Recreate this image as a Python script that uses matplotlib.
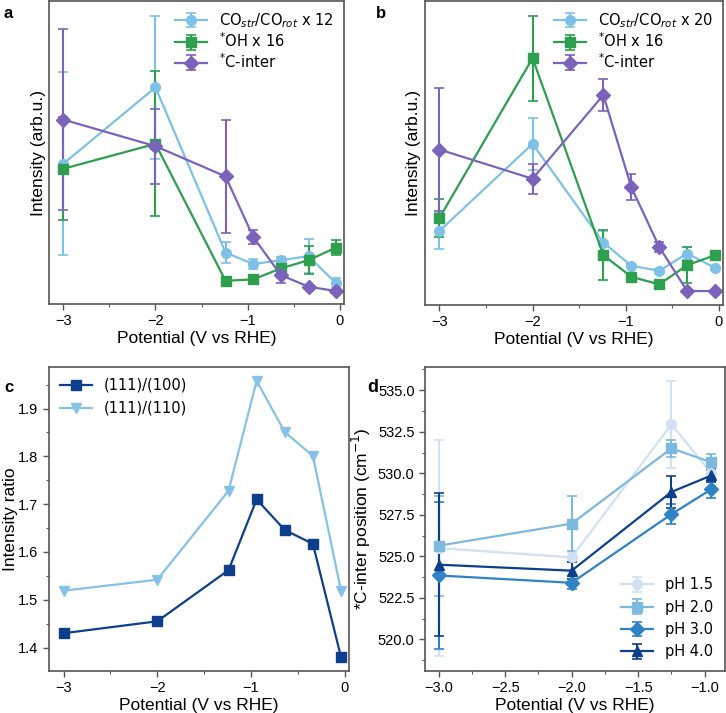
import matplotlib
matplotlib.use("Agg")
import matplotlib.pyplot as plt
from matplotlib.ticker import MultipleLocator

# ---------------- data ----------------
potential = [-3.0, -2.0, -1.24, -0.94, -0.64, -0.34, -0.04]

a_co = [4.22, 6.52, 1.55, 1.20, 1.32, 1.44, 0.62]
a_co_err = [2.75, 2.15, 0.32, 0.15, 0.10, 0.52, 0.15]
a_oh = [4.07, 4.82, 0.70, 0.74, 1.07, 1.32, 1.70]
a_oh_err = [1.55, 2.18, 0.12, 0.12, 0.10, 0.43, 0.22]
a_c = [5.55, 4.75, 3.84, 2.02, 0.87, 0.52, 0.39]
a_c_err = [2.72, 1.13, 1.70, 0.22, 0.25, 0.04, 0.04]

b_co = [2.23, 4.85, 1.88, 1.18, 1.03, 1.55, 1.12]
b_co_err = [0.53, 0.78, 0.35, 0.05, 0.05, 0.20, 0.05]
b_oh = [2.62, 7.43, 1.50, 0.85, 0.62, 1.20, 1.50]
b_oh_err = [0.58, 1.28, 0.75, 0.05, 0.05, 0.55, 0.05]
b_c = [4.68, 3.80, 6.32, 3.55, 1.75, 0.42, 0.42]
b_c_err = [1.85, 0.45, 0.48, 0.38, 0.15, 0.02, 0.02]

c_100 = [1.430, 1.455, 1.562, 1.710, 1.646, 1.617, 1.380]
c_110 = [1.519, 1.542, 1.728, 1.958, 1.851, 1.801, 1.519]

d_pot = [-3.0, -2.0, -1.25, -0.95]
d_ph15 = [525.5, 524.94, 532.95, 530.0]
d_ph15_err = [6.5, 0.3, 2.6, 0.3]
d_ph20 = [525.64, 526.97, 531.5, 530.67]
d_ph20_err = [3.0, 1.67, 0.5, 0.5]
d_ph30 = [523.85, 523.41, 527.54, 529.04]
d_ph30_err = [4.4, 0.4, 0.6, 0.5]
d_ph40 = [524.5, 524.14, 528.88, 529.87]
d_ph40_err = [4.3, 0.5, 0.95, 0.4]

labels_a = ['CO$_{str}$/CO$_{rot}$ x 12', '$^{*}$OH x 16', '$^{*}$C-inter']
labels_b = ['CO$_{str}$/CO$_{rot}$ x 20', '$^{*}$OH x 16', '$^{*}$C-inter']
labels_c = ['(111)/(100)', '(111)/(110)']
labels_d = ['pH 1.5', 'pH 2.0', 'pH 3.0', 'pH 4.0']

# ---------------- style ----------------
C_CO = '#7fc1e6'
C_OH = '#2e9e4f'
C_C = '#7b63bb'
C_DARK = '#0e3f8c'
C_LIGHT = '#86c2e8'
D_COLS = ['#cfe1f2', '#7db8de', '#2f82c5', '#0d3f8a']

TICKFONT = 'Liberation Sans'
LEGFONT = 'DejaVu Sans'
SPINE = '#555555'

W, H = 726, 713
fig = plt.figure(figsize=(W / 100, H / 100), dpi=100)


def box(l, t, r, b):
    return [l / W, 1 - b / H, (r - l) / W, (b - t) / H]


def style(ax, xlabel, ylabel, ylab_x):
    for s in ax.spines.values():
        s.set_color(SPINE)
        s.set_linewidth(1.2)
    ax.tick_params(which='both', color=SPINE, labelsize=10.5, direction='out')
    ax.tick_params(which='major', length=4, width=1.0)
    ax.tick_params(which='minor', length=2.5, width=0.8)
    for lab in ax.get_xticklabels() + ax.get_yticklabels():
        lab.set_fontfamily(TICKFONT)
    ax.set_xlabel(xlabel, fontsize=12.5, family=TICKFONT, labelpad=2)
    ax.set_ylabel(ylabel, fontsize=12.5, family=TICKFONT)
    ax.yaxis.set_label_coords(ylab_x, 0.5)


eb_kw = dict(lw=1.6, elinewidth=1.5, capsize=3.5, capthick=1.2, markersize=7)

# ---------------- panel a ----------------
ax = fig.add_axes(box(49, 1, 344, 304))
ax.errorbar(potential, a_co, yerr=a_co_err, color=C_CO, marker='o', label=labels_a[0], **eb_kw)
ax.errorbar(potential, a_oh, yerr=a_oh_err, color=C_OH, marker='s', label=labels_a[1], **eb_kw)
ax.errorbar(potential, a_c, yerr=a_c_err, color=C_C, marker='D', label=labels_a[2], **eb_kw)
ax.set_xlim(-3.155, 0.045)
ax.set_ylim(0, 9.12)
ax.set_xticks([-3, -2, -1, 0])
ax.set_xticklabels(['\u22123', '\u22122', '\u22121', '0'])
ax.xaxis.set_minor_locator(MultipleLocator(0.5))
ax.set_yticks([])
style(ax, 'Potential (V vs RHE)', 'Intensity (arb.u.)', -0.01)
ax.legend(loc='upper right', frameon=False, prop={'family': LEGFONT, 'size': 10.5},
          handlelength=2.2, borderaxespad=0.3, labelspacing=0.12, bbox_to_anchor=(1.0, 1.0))
fig.text(3 / W, 1 - 18 / H, 'a', fontsize=12, fontweight='bold', family=TICKFONT)

# ---------------- panel b ----------------
ax = fig.add_axes(box(425, 1, 723, 305))
ax.errorbar(potential, b_co, yerr=b_co_err, color=C_CO, marker='o', label=labels_b[0], **eb_kw)
ax.errorbar(potential, b_oh, yerr=b_oh_err, color=C_OH, marker='s', label=labels_b[1], **eb_kw)
ax.errorbar(potential, b_c, yerr=b_c_err, color=C_C, marker='D', label=labels_b[2], **eb_kw)
ax.set_xlim(-3.155, 0.045)
ax.set_ylim(0, 9.15)
ax.set_xticks([-3, -2, -1, 0])
ax.set_xticklabels(['\u22123', '\u22122', '\u22121', '0'])
ax.xaxis.set_minor_locator(MultipleLocator(0.5))
ax.set_yticks([])
style(ax, 'Potential (V vs RHE)', 'Intensity (arb.u.)', -0.014)
ax.legend(loc='upper right', frameon=False, prop={'family': LEGFONT, 'size': 10.5},
          handlelength=2.2, borderaxespad=0.3, labelspacing=0.12, bbox_to_anchor=(1.0, 1.0))
fig.text(376 / W, 1 - 18 / H, 'b', fontsize=12, fontweight='bold', family=TICKFONT)

# ---------------- panel c ----------------
ax = fig.add_axes(box(49, 367, 349, 671))
ax.plot(potential, c_100, color=C_DARK, marker='s', lw=1.6, markersize=7, label=labels_c[0])
ax.plot(potential, c_110, color=C_LIGHT, marker='v', lw=1.6, markersize=7, label=labels_c[1])
ax.set_xlim(-3.155, 0.045)
ax.set_ylim(1.351, 1.987)
ax.set_xticks([-3, -2, -1, 0])
ax.set_xticklabels(['\u22123', '\u22122', '\u22121', '0'])
ax.xaxis.set_minor_locator(MultipleLocator(0.5))
ax.set_yticks([1.4, 1.5, 1.6, 1.7, 1.8, 1.9])
ax.yaxis.set_minor_locator(MultipleLocator(0.05))
style(ax, 'Potential (V vs RHE)', 'Intensity ratio', -0.103)
ax.legend(loc='upper left', frameon=False, prop={'family': LEGFONT, 'size': 10.5},
          handlelength=2.2, borderaxespad=0.35, labelspacing=0.55)
fig.text(4 / W, 1 - 392 / H, 'c', fontsize=12, fontweight='bold', family=TICKFONT)

# ---------------- panel d ----------------
ax = fig.add_axes(box(425, 367, 725, 671))
markers_d = ['o', 's', 'D', '^']
for ys, es, col, mk, lab in zip([d_ph15, d_ph20, d_ph30, d_ph40],
                                [d_ph15_err, d_ph20_err, d_ph30_err, d_ph40_err],
                                D_COLS, markers_d, labels_d):
    ax.errorbar(d_pot, ys, yerr=es, color=col, marker=mk, label=lab, **eb_kw)
ax.set_xlim(-3.1025, -0.8475)
ax.set_ylim(518.1, 536.4)
ax.set_xticks([-3.0, -2.5, -2.0, -1.5, -1.0])
ax.set_xticklabels(['\u22123.0', '\u22122.5', '\u22122.0', '\u22121.5', '\u22121.0'])
ax.xaxis.set_minor_locator(MultipleLocator(0.25))
ax.set_yticks([520.0, 522.5, 525.0, 527.5, 530.0, 532.5, 535.0])
ax.set_yticklabels(['520.0', '522.5', '525.0', '527.5', '530.0', '532.5', '535.0'])
ax.yaxis.set_minor_locator(MultipleLocator(1.25))
style(ax, 'Potential (V vs RHE)', '*C-inter position (cm$^{-1}$)', -0.173)
ax.legend(loc='lower right', frameon=False, prop={'family': LEGFONT, 'size': 10.5},
          handlelength=2.2, borderaxespad=0.4, labelspacing=0.5)
fig.text(367 / W, 1 - 392 / H, 'd', fontsize=13, fontweight='bold', family=TICKFONT)

fig.savefig('out.png', dpi=100)
